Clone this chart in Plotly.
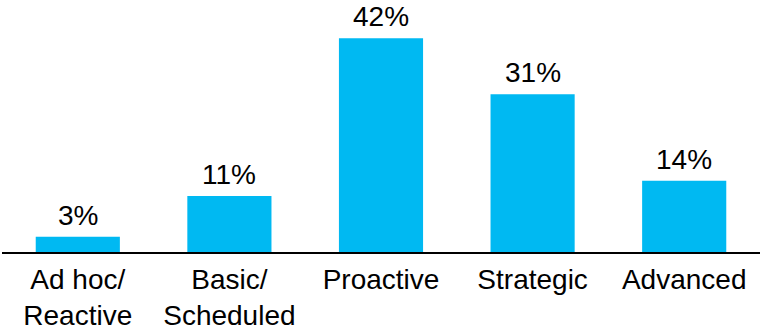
import plotly.graph_objects as go

categories = ["Ad hoc/<br>Reactive", "Basic/<br>Scheduled", "Proactive", "Strategic", "Advanced"]
values = [3, 11, 42, 31, 14]
labels = [f"{v}%" for v in values]

fig = go.Figure(go.Bar(
    x=categories, y=values,
    marker=dict(color="#00B9F2", line=dict(width=0)),
    cliponaxis=False,
))
for c, v, t in zip(categories, values, labels):
    fig.add_annotation(x=c, y=v, text=t, showarrow=False, yanchor="bottom", yshift=4,
                       font=dict(size=28, color="black", family="Arial, Liberation Sans"))
fig.update_layout(
    width=762, height=328,
    margin=dict(l=2, r=2, t=0, b=76),
    paper_bgcolor="white", plot_bgcolor="white",
    bargap=0.445,
    showlegend=False,
    font=dict(family="Arial, Liberation Sans", size=28, color="black"),
    xaxis=dict(showline=True, linecolor="black", linewidth=2, ticks="", showgrid=False,
               tickfont=dict(size=28), ticklabelstandoff=1, automargin=False),
    yaxis=dict(range=[0, 49.5], visible=False, showgrid=False, zeroline=False,
               automargin=False),
)
fig.write_html("out.html")
